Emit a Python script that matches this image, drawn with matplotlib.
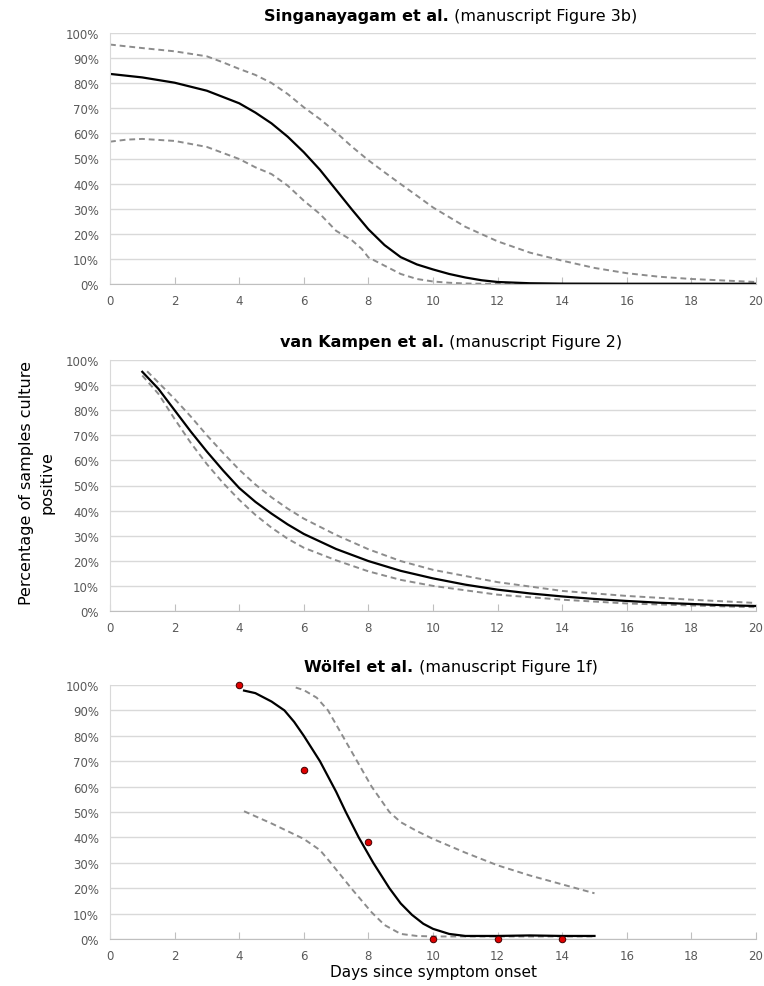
import matplotlib
matplotlib.use("Agg")
import matplotlib.pyplot as plt
from matplotlib.ticker import FuncFormatter, MultipleLocator

# Singanayagam et al. (Figure 3b)
sing_mid_x = [0, 1, 2, 3, 4, 4.5, 5, 5.5, 6, 6.5, 7, 7.5, 8, 8.5, 9, 9.5, 10, 10.5, 11, 11.5, 12, 13, 14, 16, 18, 20]
sing_mid = [83.7, 82.3, 80.2, 77, 72, 68.3, 64, 58.7, 52.5, 45.5, 37.5, 29.5, 21.8, 15.5, 10.7, 7.8, 5.8, 4, 2.6, 1.5, 0.8, 0.3, 0.15, 0.1, 0.1, 0.1]
sing_hi_x = [0, 1, 2, 3, 3.5, 4, 4.5, 5, 5.5, 6, 6.5, 7, 7.5, 8, 8.5, 9, 9.5, 10, 11, 12, 13, 14, 15, 16, 17, 18, 19, 20]
sing_hi = [95.4, 94, 92.7, 90.7, 88.3, 85.7, 83.3, 80.1, 75.7, 70.4, 65.7, 60.4, 54.6, 49.3, 44.5, 39.8, 35.2, 30.5, 22.8, 17, 12.5, 9.3, 6.4, 4.3, 2.9, 2, 1.4, 0.8]
sing_lo_x = [0, 0.5, 1, 2, 3, 4, 4.5, 5, 5.5, 6, 6.5, 7, 7.5, 7.8, 8, 8.5, 9, 9.5, 10, 10.5, 11, 12, 14, 16, 18, 20]
sing_lo = [56.7, 57.5, 57.8, 57, 54.6, 49.8, 46.5, 43.8, 39.2, 33.2, 27.9, 21.2, 17.3, 13.9, 10.6, 7.3, 4, 2, 1, 0.5, 0.2, 0, 0, 0, 0, 0]

# van Kampen et al. (Figure 2)
vk_mid_x = [1, 1.5, 2, 2.5, 3, 3.5, 4, 4.5, 5, 5.5, 6, 7, 8, 9, 10, 11, 12, 13, 14, 15, 16, 17, 18, 19, 20]
vk_mid = [95.3, 88.5, 80, 71.5, 63.5, 56, 49, 43.5, 38.8, 34.5, 30.7, 24.7, 19.9, 16, 13, 10.5, 8.5, 7, 5.8, 4.8, 4, 3.3, 2.8, 2.3, 2]
vk_hi_x = [1.15, 1.5, 2, 2.5, 3, 3.5, 4, 4.5, 5, 5.5, 6, 7, 8, 9, 10, 12, 14, 16, 18, 20]
vk_hi = [95.5, 91, 84.5, 77.5, 70, 63, 56.3, 50.4, 45.3, 40.8, 36.8, 30.3, 24.6, 19.9, 16.4, 11.5, 8, 6, 4.5, 3.2]
vk_lo_x = [1, 1.5, 2, 2.5, 3, 3.5, 4, 4.5, 5, 5.5, 6, 7, 8, 9, 10, 12, 14, 16, 18, 20]
vk_lo = [93.8, 86.5, 76.5, 67, 58.5, 51, 44.3, 38.3, 33.2, 28.8, 25.2, 20.2, 15.8, 12.4, 10, 6.5, 4.5, 3, 2.2, 1.5]

# Wölfel et al. (Figure 1f)
wo_pts_x = [4, 6, 8, 10, 12, 14]
wo_pts_y = [100, 66.5, 38, 0, 0, 0]
wo_mid_x = [4.15, 4.5, 5, 5.4, 5.7, 6, 6.5, 7, 7.3, 7.7, 8.15, 8.65, 9, 9.35, 9.7, 10, 10.5, 11, 12, 13, 14, 15]
wo_mid = [97.8, 96.8, 93.5, 90, 85.5, 80, 70, 58, 50, 40, 30, 20, 14, 9.5, 6, 4, 2, 1.2, 1.2, 1.4, 1.2, 1.2]
wo_hi_x = [5.75, 6, 6.4, 6.75, 7.2, 7.65, 8.1, 8.65, 9, 9.5, 10, 11, 12, 13, 14, 15]
wo_hi = [99, 98, 95, 90, 80, 70, 60, 50, 46, 42.5, 39.4, 34, 29, 25, 21.5, 18]
wo_lo_x = [4.15, 5, 6, 6.5, 6.8, 7.15, 7.5, 8.1, 8.5, 9, 9.5, 10, 11, 12, 13, 14, 15]
wo_lo = [50.3, 45.5, 39.4, 35, 30.5, 25, 19.5, 10.5, 5.5, 2, 1.2, 1, 1, 1, 1, 1, 1]

titles = [("Singanayagam et al.", " (manuscript Figure 3b)"),
          ("van Kampen et al.", " (manuscript Figure 2)"),
          ("Wölfel et al.", " (manuscript Figure 1f)")]

plt.rcParams['font.family'] = ['DejaVu Sans']

W, H = 764, 987
fig = plt.figure(figsize=(W / 100, H / 100), dpi=100)

# axes boxes in pixels: left, top, right, bottom
boxes = [(110, 34, 756, 285), (110, 361, 756, 612), (110, 686, 756, 940)]
axes = []
for l, t, r, b in boxes:
    ax = fig.add_axes([l / W, 1 - b / H, (r - l) / W, (b - t) / H])
    axes.append(ax)

dash_kw = dict(color='#8c8c8c', lw=1.4, ls=(0, (3, 2)), solid_joinstyle='round')
solid_kw = dict(color='black', lw=1.6, solid_joinstyle='round')

axes[0].plot(sing_hi_x, sing_hi, **dash_kw)
axes[0].plot(sing_lo_x, sing_lo, **dash_kw)
axes[0].plot(sing_mid_x, sing_mid, **solid_kw)

axes[1].plot(vk_hi_x, vk_hi, **dash_kw)
axes[1].plot(vk_lo_x, vk_lo, **dash_kw)
axes[1].plot(vk_mid_x, vk_mid, **solid_kw)

axes[2].plot(wo_hi_x, wo_hi, **dash_kw)
axes[2].plot(wo_lo_x, wo_lo, **dash_kw)
axes[2].plot(wo_mid_x, wo_mid, **solid_kw)
axes[2].scatter(wo_pts_x, wo_pts_y, s=22, color='#e00000', edgecolor='#400000',
                linewidth=0.7, zorder=5, clip_on=False)

for ax in axes:
    ax.set_xlim(0, 20)
    ax.set_ylim(0, 100)
    ax.xaxis.set_major_locator(MultipleLocator(2))
    ax.yaxis.set_major_locator(MultipleLocator(10))
    ax.yaxis.set_major_formatter(FuncFormatter(lambda v, p: f"{int(v)}%"))
    ax.grid(axis='y', color='#d9d9d9', lw=1.0)
    ax.set_axisbelow(True)
    for s in ['top', 'right']:
        ax.spines[s].set_visible(False)
    ax.spines['left'].set_color('#d9d9d9')
    ax.spines['bottom'].set_color('#bfbfbf')
    ax.tick_params(axis='y', length=0, pad=8, labelsize=8.5, labelcolor='#595959')
    ax.tick_params(axis='x', direction='in', length=5, color='#bfbfbf',
                   pad=7, labelsize=8.5, labelcolor='#595959')

axes[2].set_xlabel("Days since symptom onset", fontsize=11, labelpad=2)
fig.text(37 / W, 1 - 483 / H, "Percentage of samples culture\npositive",
         rotation=90, ha='center', va='center', fontsize=11.5, linespacing=1.45)

# two-part titles: bold name + normal caption, centred above each panel
fig.canvas.draw()
renderer = fig.canvas.get_renderer()
title_y = [17, 342, 668]
for (bold, rest), ty in zip(titles, title_y):
    t1 = fig.text(0, 1 - ty / H, bold, fontsize=11.5, fontweight='bold', va='center')
    t2 = fig.text(0, 1 - ty / H, rest, fontsize=11.5, va='center')
    w1 = t1.get_window_extent(renderer).width
    w2 = t2.get_window_extent(renderer).width
    x0 = 451 - (w1 + w2) / 2
    t1.set_x(x0 / W)
    t2.set_x((x0 + w1) / W)

fig.savefig("out.png", dpi=100)
